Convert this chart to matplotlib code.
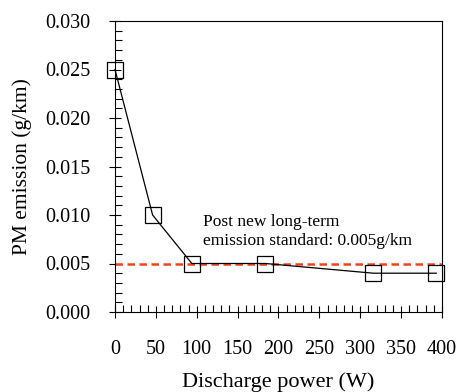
import matplotlib
matplotlib.use("Agg")
import matplotlib.pyplot as plt
from matplotlib.ticker import MultipleLocator

power = [0, 46, 94, 184, 316, 393]
pm = [0.025, 0.010, 0.005, 0.005, 0.004, 0.004]
standard = 0.005
xticks = [0, 50, 100, 150, 200, 250, 300, 350, 400]
yticks = [0.000, 0.005, 0.010, 0.015, 0.020, 0.025, 0.030]

plt.rcParams['font.family'] = ['Liberation Serif', 'DejaVu Serif']
fig = plt.figure(figsize=(4.6, 3.92), dpi=100)
ax = fig.add_axes([115/460, 1-312/392, (442-115)/460, (312-21)/392])

ax.plot([0, 400], [standard, standard], color='#f0421c', linestyle=(0, (3.0, 1.8)),
        linewidth=1.8, zorder=2, clip_on=False)
ax.plot(power, pm, color='black', linewidth=0.9, marker='s', markersize=11.5,
        markerfacecolor='none', markeredgecolor='black', markeredgewidth=0.9,
        zorder=3, clip_on=False)

ax.set_xlim(0, 400)
ax.set_ylim(0, 0.030)
ax.set_xticks(xticks)
ax.set_yticks(yticks)
ax.set_yticklabels([f"{v:.3f}" for v in yticks])
ax.xaxis.set_minor_locator(MultipleLocator(10))
ax.yaxis.set_minor_locator(MultipleLocator(0.001))
ax.tick_params(which='major', direction='inout', length=9, width=0.8, labelsize=14.5)
ax.tick_params(axis='x', which='major', pad=16)
ax.tick_params(axis='y', which='major', pad=13)
ax.tick_params(which='minor', direction='in', length=5, width=0.8)
for s in ax.spines.values():
    s.set_linewidth(0.8)

ax.text(107.6, 0.0083, "Post new long-term\nemission standard: 0.005g/km", fontsize=12.5,
        ha='left', va='center', linespacing=1.2)

ax.set_xlabel("Discharge power (W)", fontsize=16, labelpad=9)
ax.set_ylabel("PM emission (g/km)", fontsize=15.5, labelpad=10)

fig.savefig("out.png", dpi=100)
